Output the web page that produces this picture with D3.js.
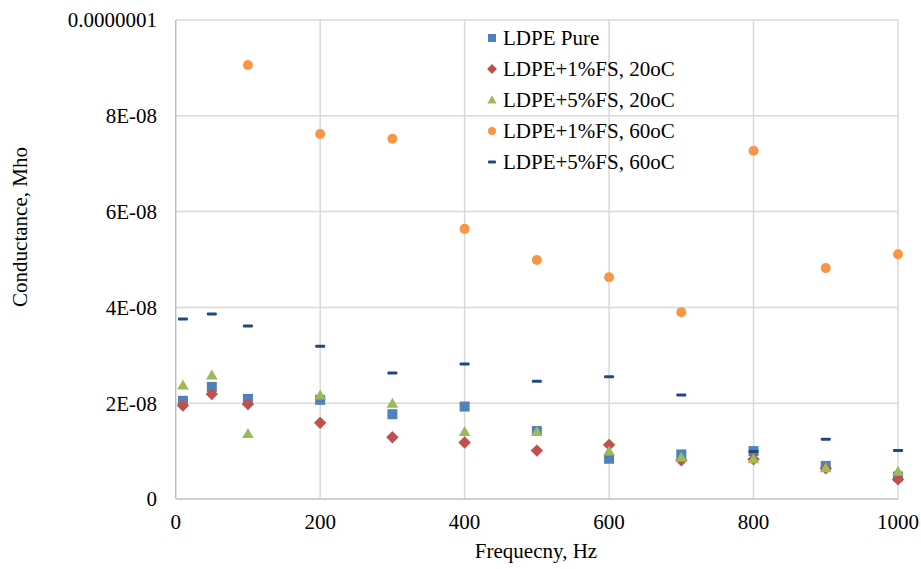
<!DOCTYPE html>
<html>
<head>
<meta charset="utf-8">
<script src="https://cdn.jsdelivr.net/npm/d3@7"></script>
<style>
  body { margin: 0; background: #fff; }
  text { font-family: "Liberation Serif", "Times New Roman", serif; fill: #000; }
</style>
</head>
<body>
<script>
// chart size
let w = 921;
let h = 569;

// frequencies (Hz)
const freq = [10, 50, 100, 200, 300, 400, 500, 600, 700, 800, 900, 1000];
const freq60 = [100, 200, 300, 400, 500, 600, 700, 800, 900, 1000];

// conductance values, in units of 1e-9 Mho
const pure = [20.5, 23.4, 20.9, 20.7, 17.7, 19.3, 14.2, 8.4, 9.3, 10.0, 6.9, 4.7];
const fs1_20 = [19.5, 21.9, 19.8, 15.9, 12.9, 11.8, 10.1, 11.3, 8.1, 8.3, 6.4, 4.1];
const fs5_20 = [23.8, 25.9, 13.7, 21.7, 20.0, 14.1, 14.1, 10.0, 8.7, 8.4, 6.5, 5.8];
const fs1_60 = [90.6, 76.2, 75.2, 56.4, 49.9, 46.3, 39.0, 72.7, 48.2, 51.1];
const fs5_60 = [37.6, 38.6, 36.1, 31.9, 26.3, 28.2, 24.6, 25.5, 21.7, 9.9, 12.5, 10.1];

const seriesNames = ["LDPE Pure", "LDPE+1%FS, 20oC", "LDPE+5%FS, 20oC", "LDPE+1%FS, 60oC", "LDPE+5%FS, 60oC"];
const yTicks = [0, 2e-8, 4e-8, 6e-8, 8e-8, 1e-7];
const yTickLabels = ["0", "2E-08", "4E-08", "6E-08", "8E-08", "0.0000001"];
const xTicks = [0, 200, 400, 600, 800, 1000];

// build series list from the arrays
let series = [
    { name: seriesNames[0], xs: freq, ys: pure, color: "#4f81bd", shape: "square" },
    { name: seriesNames[1], xs: freq, ys: fs1_20, color: "#c0504d", shape: "diamond" },
    { name: seriesNames[2], xs: freq, ys: fs5_20, color: "#9bbb59", shape: "triangle" },
    { name: seriesNames[3], xs: freq60, ys: fs1_60, color: "#f79646", shape: "circle" },
    { name: seriesNames[4], xs: freq, ys: fs5_60, color: "#1f497d", shape: "dash" }
];

let plotL = 175.7, plotR = 898, plotT = 20, plotB = 499;
let fontSize = "21px";

let x = d3.scaleLinear().domain([0, 1000]).range([plotL, plotR]);
let y = d3.scaleLinear().domain([0, 1e-7]).range([plotB, plotT]);

let svg = d3.select("body").append("svg")
    .attr("width", w)
    .attr("height", h);

// gridlines
svg.append("g").selectAll("line").data(yTicks.slice(1)).enter().append("line")
    .attr("x1", plotL).attr("x2", plotR)
    .attr("y1", d => y(d)).attr("y2", d => y(d))
    .attr("stroke", "#d9d9d9").attr("stroke-width", 1.5);
svg.append("g").selectAll("line").data(xTicks.slice(1)).enter().append("line")
    .attr("x1", d => x(d)).attr("x2", d => x(d))
    .attr("y1", plotT).attr("y2", plotB)
    .attr("stroke", "#d9d9d9").attr("stroke-width", 1.5);

// axis lines
svg.append("line").attr("x1", plotL).attr("x2", plotL).attr("y1", plotT).attr("y2", plotB)
    .attr("stroke", "#bfbfbf").attr("stroke-width", 1.5);
svg.append("line").attr("x1", plotL).attr("x2", plotR).attr("y1", plotB).attr("y2", plotB)
    .attr("stroke", "#bfbfbf").attr("stroke-width", 1.5);

// tick labels
svg.append("g").selectAll("text").data(yTicks).enter().append("text")
    .attr("x", 157).attr("y", d => y(d))
    .attr("dy", "0.35em")
    .attr("text-anchor", "end")
    .style("font-size", fontSize)
    .text((d, i) => yTickLabels[i]);
svg.append("g").selectAll("text").data(xTicks).enter().append("text")
    .attr("x", d => x(d)).attr("y", 522)
    .attr("dy", "0.35em")
    .attr("text-anchor", "middle")
    .style("font-size", fontSize)
    .text(d => d);

// axis titles
svg.append("text").attr("x", 536).attr("y", 551).attr("dy", "0.35em")
    .attr("text-anchor", "middle").style("font-size", fontSize).text("Frequecny, Hz");
svg.append("text").attr("transform", "translate(20,227) rotate(-90)").attr("dy", "0.35em")
    .attr("text-anchor", "middle").style("font-size", fontSize).text("Conductance, Mho");

// marker drawing
function drawMarker(g, shape, color, s) {
    if (shape == "square") {
        g.append("rect").attr("x", -s / 2).attr("y", -s / 2).attr("width", s).attr("height", s).attr("fill", color);
    } else if (shape == "diamond") {
        let r = s * 0.62;
        g.append("path").attr("d", `M0,${-r}L${r},0L0,${r}L${-r},0Z`).attr("fill", color);
    } else if (shape == "triangle") {
        g.append("path").attr("d", `M0,${-s * 0.55}L${s * 0.58},${s * 0.45}L${-s * 0.58},${s * 0.45}Z`).attr("fill", color);
    } else if (shape == "circle") {
        g.append("circle").attr("r", s / 2).attr("fill", color);
    } else {
        g.append("rect").attr("x", -s / 2).attr("y", -1.5).attr("width", s).attr("height", 3).attr("rx", 1).attr("fill", color);
    }
}

// points
series.forEach(function (sr) {
    let pts = sr.xs.map((f, i) => [f, sr.ys[i] * 1e-9]);
    svg.append("g").selectAll("g").data(pts).enter().append("g")
        .attr("transform", d => `translate(${x(d[0])},${y(d[1])})`)
        .each(function () { drawMarker(d3.select(this), sr.shape, sr.color, 10); });
});

// legend
let legend = svg.append("g");
series.forEach(function (sr, i) {
    let ly = 38 + i * 31;
    let g = legend.append("g").attr("transform", `translate(492,${ly})`);
    drawMarker(g, sr.shape, sr.color, 8);
    legend.append("text").attr("x", 503).attr("y", ly).attr("dy", "0.35em")
        .style("font-size", fontSize).text(sr.name);
});
</script>
</body>
</html>
